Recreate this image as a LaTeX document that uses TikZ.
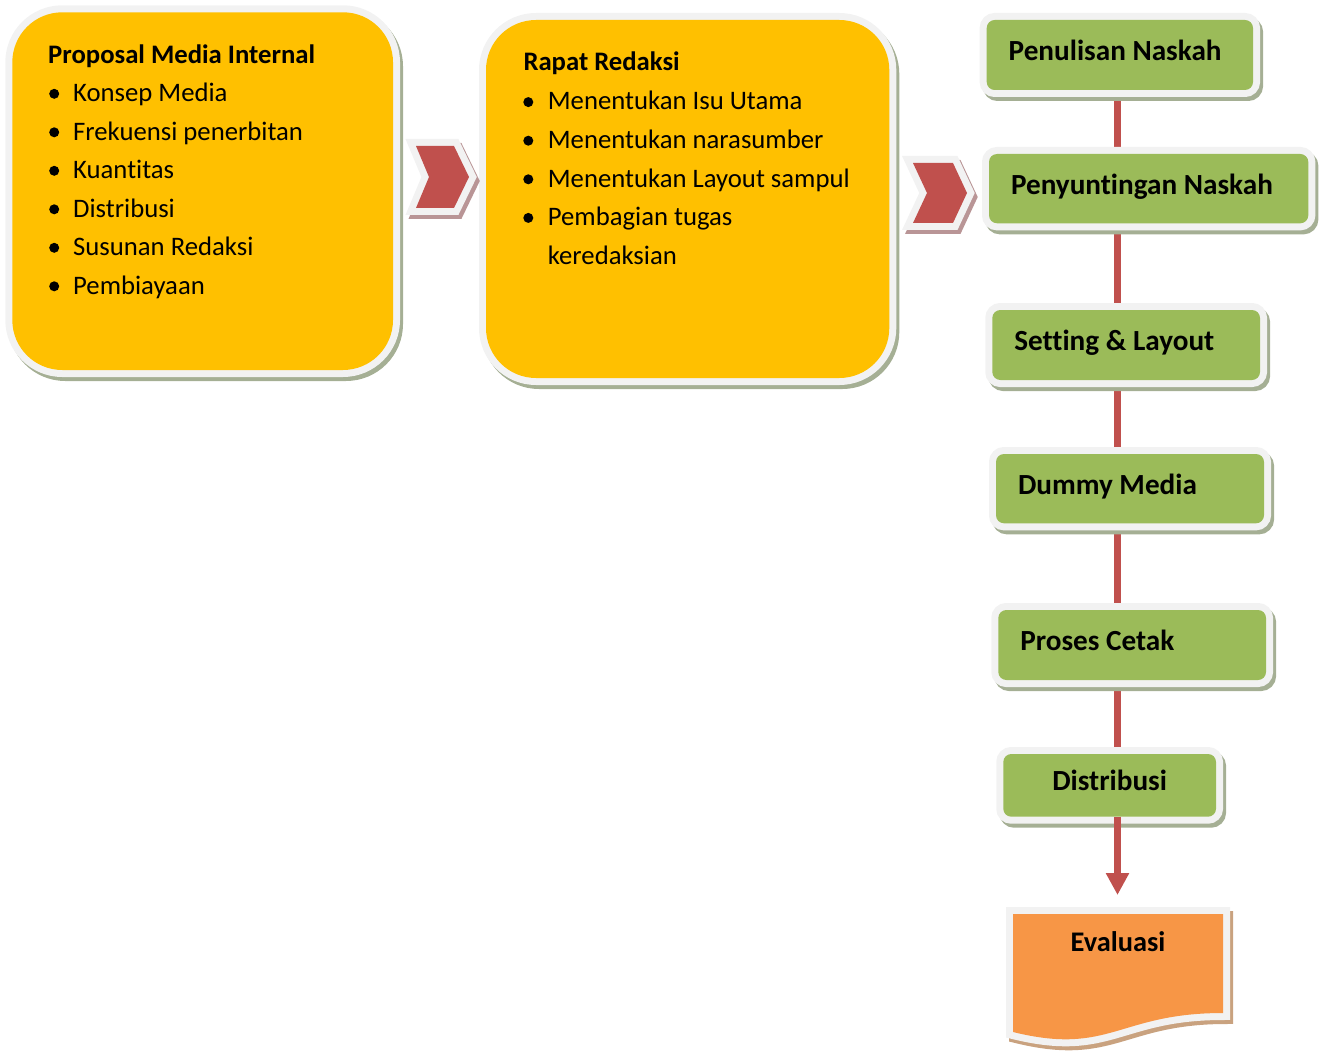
\documentclass[tikz,border=0pt]{standalone}
\usepackage{fontspec}
\setmainfont{Carlito}[Ligatures={NoCommon,NoContextual}]
\usetikzlibrary{arrows.meta,backgrounds}
\definecolor{yel}{HTML}{FFC000}
\definecolor{grn}{HTML}{9BBB59}
\definecolor{rd}{HTML}{C0504D}
\definecolor{org}{HTML}{F79646}
\definecolor{wb}{HTML}{F2F2F2}
\definecolor{shg}{HTML}{A5AF94}
\definecolor{shr}{HTML}{B99596}
\definecolor{sho}{HTML}{C9A27F}
\newcommand\ysz{\fontsize{26.7pt}{31pt}\selectfont}
\newcommand\gsz{\fontsize{29.2pt}{34pt}\selectfont\bfseries}
\newcommand\esz{\fontsize{28.4pt}{33pt}\selectfont\bfseries}
\tikzset{
  framed/.style 2 args={draw=wb, line width=14pt, fill=#1, postaction={fill=#1},
    preaction={draw=#2, fill=#2, line width=14pt, transform canvas={shift={(3pt,-4pt)}}}},
  ybox/.style={framed={yel}{shg}, rounded corners=50pt, inner sep=0pt, outer sep=0pt, anchor=north west},
  gbox/.style={framed={grn}{shg}, rounded corners=8pt, inner xsep=22pt, inner ysep=0pt, outer sep=0pt,
    align=flush left, font=\gsz, text height=19pt, text depth=8pt},
  ytxt/.style={anchor=base west, inner sep=0pt, font=\ysz},
  ytitle/.style={anchor=base west, inner sep=0pt, font=\ysz\bfseries},
  bul/.style={fill=black},
  conn/.style={draw=rd, line width=6.7pt},
}
\begin{document}
\begin{tikzpicture}[x=1pt,y=-1pt]
\useasboundingbox (0,0) rectangle (1325,1051);
% yellow boxes
\node[ybox, minimum width=380.7pt, minimum height=357.7pt] (b1) at (12.3,12.3) {};
\node[ybox, minimum width=403.3pt, minimum height=358pt] (b2) at (486,20) {};
% chevrons
\path[framed={rd}{shr}, line join=miter, miter limit=3]
  (416,146) -- (454,146) -- (469,177) -- (454,208) -- (416,208) -- (429,177) -- cycle;
\path[framed={rd}{shr}, line join=miter, miter limit=3]
  (913,163) -- (953,163) -- (967,193) -- (953,223) -- (913,223) -- (927,193) -- cycle;
% box 1 text
\node[ytitle] (t1) at (48,63.3) {Proposal Media Internal};
\foreach \s [count=\i] in {Konsep Media, Frekuensi penerbitan, Kuantitas, Distribusi, Susunan Redaksi, Pembiayaan}{
  \node[ytxt] (t1l\i) at (73,{101.7+38.5*(\i-1)}) {\s};
  \fill[bul] (54.2,{93.8+38.5*(\i-1)}) circle (5pt);
}
% box 2 text
\node[ytitle] (t2) at (523.3,71) {Rapat Redaksi};
\foreach \s [count=\i] in {Menentukan Isu Utama, Menentukan narasumber, Menentukan Layout sampul, Pembagian tugas}{
  \node[ytxt] (t2l\i) at (547.7,{110+38.6*(\i-1)}) {\s};
  \fill[bul] (528.3,{102.1+38.6*(\i-1)}) circle (5pt);
}
\node[ytxt] (t2l5) at (547.7,264.4) {keredaksian};
% green boxes
\node[gbox, minimum width=266.3pt, minimum height=70pt, text width=222.3pt] (n1) at (1119.85,55) {Penulisan Naskah};
\node[gbox, minimum width=319.3pt, minimum height=69.3pt, text width=275.3pt] (n2) at (1148.65,188.65) {Penyuntingan Naskah};
\node[gbox, minimum width=267.7pt, minimum height=70pt, text width=223.7pt] (n3) at (1126.15,345) {Setting \& Layout};
\node[gbox, minimum width=268pt, minimum height=69.3pt, text width=224pt] (n4) at (1130,488.65) {Dummy Media};
\node[gbox, minimum width=267.7pt, minimum height=70pt, text width=223.7pt] (n5) at (1132.15,645) {Proses Cetak};
\node[gbox, minimum width=212.7pt, minimum height=62.7pt, text width=168.7pt, align=flush center] (n6) at (1109.65,785.35) {Distribusi};
% Evaluasi document shape
\node[inner sep=0pt, outer sep=0pt, minimum width=210pt, minimum height=123pt, anchor=north west] (ev) at (1013,914) {};
\path[framed={org}{sho}, line join=miter]
  (1013,914) -- (1223,914) -- (1223,1013) .. controls (1118,1013) and (1110,1056) .. (1013,1032) -- cycle;
\node[inner sep=0pt, anchor=base, font=\esz] (evt) at (1118,951.7) {Evaluasi};
% connectors
\coordinate (cx) at (1117.5,0);
\begin{scope}[on background layer]
\draw[conn] (n1.south -| cx) -- (n2.north -| cx);
\draw[conn] (n2.south -| cx) -- (n3.north -| cx);
\draw[conn] (n3.south -| cx) -- (n4.north -| cx);
\draw[conn] (n4.south -| cx) -- (n5.north -| cx);
\draw[conn] (n5.south -| cx) -- (n6.north -| cx);
\end{scope}
\draw[conn, -{Triangle[width=22pt,length=22pt]}, shorten >=19pt] (n6.south -| cx) -- (ev.north -| cx);
\end{tikzpicture}
\end{document}
